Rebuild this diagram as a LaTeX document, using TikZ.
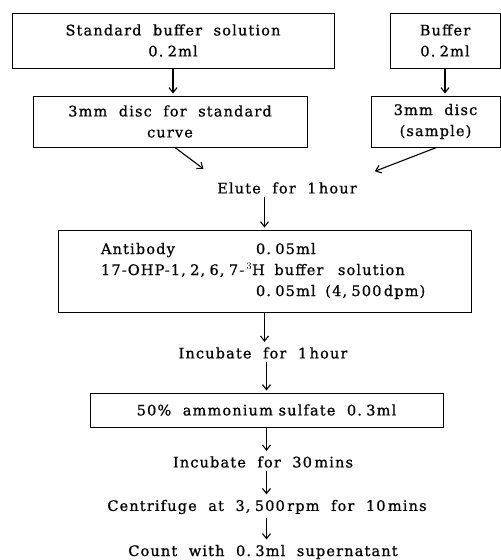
\documentclass[tikz,border=0pt]{standalone}
\usepackage{fontspec}
\setmainfont{DejaVu Serif}[LetterSpace=8,FakeBold=0.8]
\usetikzlibrary{arrows.meta}

\begin{document}
\begin{tikzpicture}[x=1pt,y=-1pt,
  box/.style={draw,line width=1pt,inner sep=0pt,align=center},
  flow/.style={line width=1.1pt,-{Straight Barb[length=5pt,width=8pt]},shorten >=2pt},
  font=\fontsize{14.5}{21}\selectfont]
% helper: the wide gap after a decimal point or comma
\newcommand{\dsp}{\hspace{.3em}}
\useasboundingbox (0,0) rectangle (501,560);
% sample preparation
\node[box,minimum width=322,minimum height=55] (std) at (173,40.5) {Standard\ \ buffer\ \ solution\\0.\dsp2ml};
\node[box,minimum width=110,minimum height=55] (buf) at (445,40.5) {Buffer\\0.\dsp2ml};
\node[box,minimum width=274,minimum height=51] (disc) at (170,121.5) {3mm\ \ disc\ \ for\ \ standard\\curve};
\node[box,minimum width=129,minimum height=51] (samp) at (435.5,121.5) {3mm\ \ disc\\(sample)};
\node (elute) at (287,188) {Elute\ \ for\ \ 1\,hour};
% reagents
\node[box,minimum width=413,minimum height=82,text width=327,inner xsep=43pt,align=left] (antib) at (264.5,271)
  {\makebox[155pt][l]{Antibody}0.\dsp05ml\\
   17-OHP-1,\dsp2,\dsp6,\dsp7-\,$^{3}$H\ \ buffer\ \ \ solution\\
   \hspace*{155pt}0.\dsp05ml\ \ (4,\dsp500\,dpm)};
\node (inc1) at (263,353) {Incubate\ \ for\ \ 1\,hour};
\node[box,minimum width=353,minimum height=34] (amm) at (266.5,410) {50\%\ \ ammonium sulfate\ \ 0.\dsp3ml};
\node (inc2) at (263,462) {Incubate\ \ for\ \ 30\,mins};
\node (cent) at (267,507) {Centrifuge\ \ at\ \ 3,\dsp500\,rpm\ \ for\ \ 10\,mins};
\node (count) at (263,552) {Count\ \ with\ \ 0.\dsp3ml\ \ supernatant};
% free ends of the slanted arrows
\coordinate (inL) at (205,170);
\coordinate (inR) at (373,172);
% arrows
\draw[flow] (std.south) -- (std.south |- disc.north);
\draw[flow] (buf.south) -- (buf.south |- samp.north);
\draw[flow] ([xshift=5pt]disc.south) -- (inL);
\draw[flow] ([xshift=1pt]samp.south) -- (inR);
\draw[flow] (elute.south -| antib.north) -- (antib.north);
\draw[flow] (antib.south) -- (inc1.north -| antib.south);
\draw[flow] (inc1.south -| amm.north) -- (amm.north);
\draw[flow] (amm.south) -- (inc2.north -| amm.south);
\draw[flow] (inc2.south -| amm.south) -- (cent.north -| amm.south);
\draw[flow] (cent.south -| amm.south) -- (count.north -| amm.south);
\end{tikzpicture}
\end{document}
